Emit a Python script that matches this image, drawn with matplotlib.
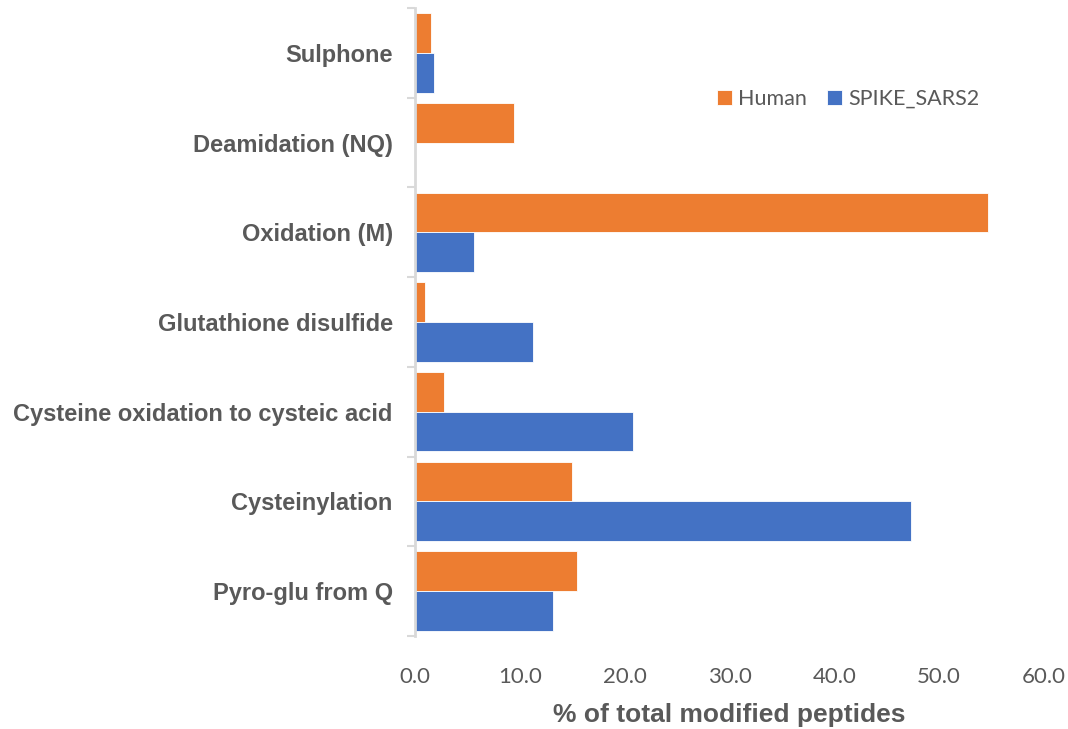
import matplotlib
matplotlib.use("Agg")
import matplotlib.pyplot as plt
import numpy as np
from matplotlib.ticker import FixedLocator, FormatStrFormatter

# Modification types, listed top to bottom
categories = [
    "Sulphone",
    "Deamidation (NQ)",
    "Oxidation (M)",
    "Glutathione disulfide",
    "Cysteine oxidation to cysteic acid",
    "Cysteinylation",
    "Pyro-glu from Q",
]
human = [1.5, 9.4, 54.7, 1.0, 2.8, 15.0, 15.5]
spike = [1.85, 0.0, 5.6, 11.3, 20.8, 47.3, 13.2]
series_names = ["Human", "SPIKE_SARS2"]
x_ticks = [0, 10, 20, 30, 40, 50, 60]

orange = "#ED7D31"
blue = "#4472C4"
grey_text = "#595959"
axis_grey = "#D9D9D9"

fig = plt.figure(figsize=(10.68, 7.29), dpi=100)
ax = fig.add_axes([415 / 1068, 1 - 636 / 729, (1044 - 415) / 1068, (636 - 8) / 729])

n = len(categories)
ypos = np.arange(n)[::-1]  # first category at the top
h = 0.442

ax.barh(ypos + h / 2, human, height=h, color=orange, edgecolor="white",
        linewidth=0.6, label=series_names[0])
ax.barh(ypos - h / 2, spike, height=h, color=blue, edgecolor="white",
        linewidth=0.6, label=series_names[1])

ax.set_xlim(0, 60)
ax.set_ylim(-0.5, n - 0.5)

# y axis: labels at category centres, short ticks at category boundaries
ax.set_yticks(ypos)
ax.set_yticklabels(categories, fontfamily="Liberation Sans", fontweight="bold",
                   fontsize=17, color=grey_text)
ax.tick_params(axis="y", which="major", length=0, pad=16)
ax.yaxis.set_minor_locator(FixedLocator(np.arange(-0.5, n, 1.0)))
ax.tick_params(axis="y", which="minor", length=6, width=1.5, color=axis_grey,
               direction="out")

# x axis: labels only
ax.set_xticks(x_ticks)
ax.xaxis.set_major_formatter(FormatStrFormatter("%.1f"))
ax.tick_params(axis="x", length=0, pad=22, labelsize=16, labelcolor=grey_text)
for t in ax.get_xticklabels():
    t.set_fontfamily("Lato")
ax.set_xlabel("% of total modified peptides", fontfamily="Liberation Sans",
              fontweight="bold", fontsize=19, color=grey_text, labelpad=12)

for side in ("top", "right", "bottom"):
    ax.spines[side].set_visible(False)
ax.spines["left"].set_color(axis_grey)
ax.spines["left"].set_linewidth(2)

leg = fig.legend(loc="center", bbox_to_anchor=(848 / 1068, 1 - 99 / 729),
                 ncol=2, frameon=False, handlelength=0.7, handleheight=0.7,
                 handletextpad=0.3, columnspacing=0.9,
                 prop={"family": "Lato", "size": 15.5})
for t in leg.get_texts():
    t.set_color(grey_text)

fig.savefig("out.png", dpi=100)
